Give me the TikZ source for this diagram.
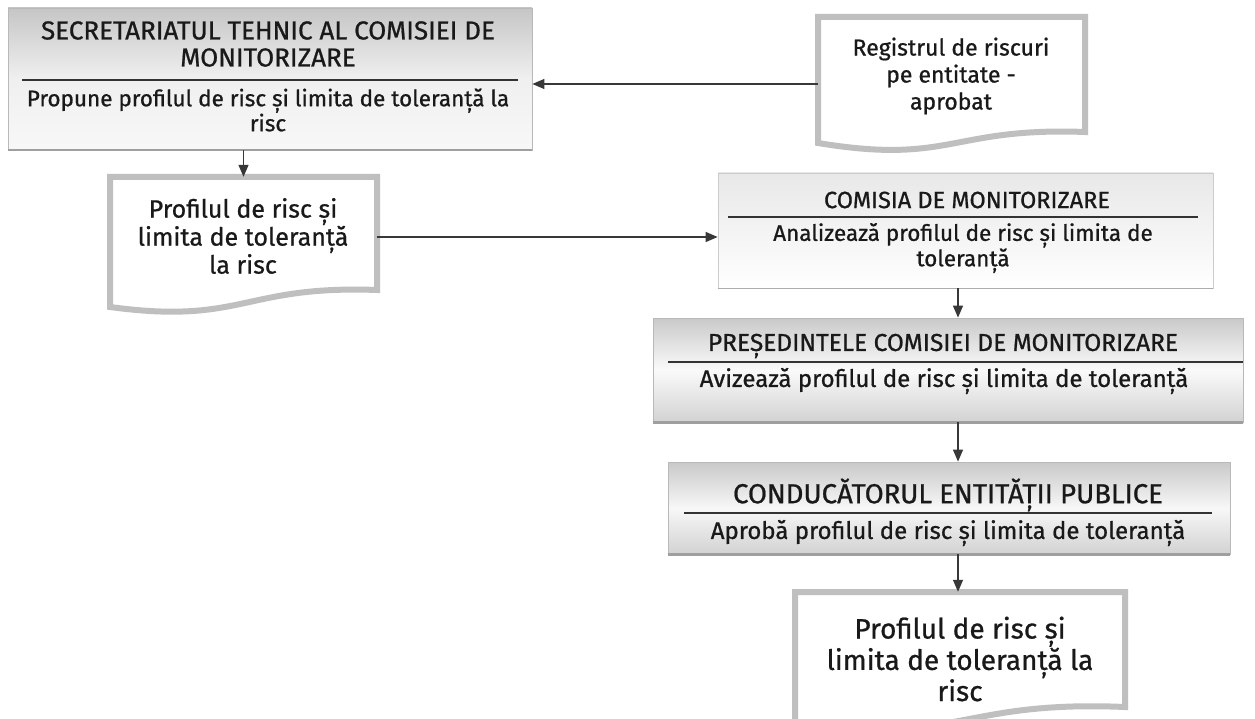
\documentclass[tikz,border=0pt]{standalone}
\usepackage{fontspec}
\setmainfont{Fira Sans}[FakeBold=0.8]
\usetikzlibrary{arrows.meta}
\begin{document}
\begin{tikzpicture}[x=1pt,y=-1pt,
  box/.style={rectangle, draw=gray!55, line width=0.8pt, inner sep=0pt},
  hidden/.style={rectangle, inner sep=0pt},
  conn/.style={draw=black!78, line width=1.3pt, -{Triangle[length=12pt,width=10pt]}},
  docline/.style={draw=gray!50, line width=6pt, fill=white, line join=miter},
  sep/.style={draw=black!80, line width=1.8pt},
  shadowline/.style={draw=gray!75, line width=2.2pt},
  txt/.style={align=center, text=black!90, inner sep=0pt},
  fa/.style={font=\fontsize{26}{27}\selectfont},
  fb/.style={font=\fontsize{22.5}{25}\selectfont},
  fc/.style={font=\fontsize{23}{27}\selectfont},
  fd/.style={font=\fontsize{25}{28}\selectfont},
  fe/.style={font=\fontsize{24}{27}\selectfont},
  ff/.style={font=\fontsize{27.5}{30}\selectfont},
  fg/.style={font=\fontsize{28}{29}\selectfont}
]
\useasboundingbox (0,0) rectangle (1255,719);
\clip (0,0) rectangle (1255,719);
\fill[white] (0,0) rectangle (1255,719);

% ---------- box 1 : Secretariat
\node[box, minimum width=524pt, minimum height=142pt, top color=gray!45, bottom color=gray!6, middle color=gray!12] (sec) at (270,79) {};
\draw[shadowline] (sec.south west) -- (sec.south east);
\node[txt, fa] (sect) at (268,44) {SECRETARIATUL TEHNIC AL COMISIEI DE\\MONITORIZARE};
\draw[sep] (22,80) -- (518,80);
\node[txt, fb] (secs) at (268,110) {Propune profilul de risc și limita de toleranță la\\risc};

% ---------- document : Registrul
\draw[docline] (818,17) -- (1085,17) -- (1085,132)
  .. controls (951,127) and (951,165) .. (818,143) -- cycle;
\node[hidden, minimum width=267pt, minimum height=134pt] (reg) at (951.5,84) {};
\node[txt, fc] (regt) at (951,76) {Registrul de riscuri\\pe entitate -\\aprobat};

% ---------- document : Profilul 1
\draw[docline] (110,177) -- (377,177) -- (377,290)
  .. controls (243,285) and (243,325) .. (110,307) -- cycle;
\node[hidden, minimum width=267pt, minimum height=120pt] (d1) at (243.5,237) {};
\node[txt, fd] (d1t) at (243,236) {Profilul de risc și\\limita de toleranță\\la risc};

% ---------- box : Comisia
\node[box, draw=gray!40, minimum width=495pt, minimum height=115pt, top color=gray!18, bottom color=white] (com) at (965.5,230.5) {};
\draw[draw=gray!65, line width=1.5pt] (com.south west) -- (com.south east);
\node[txt, font=\fontsize{23.5}{26}\selectfont] (comt) at (967,200) {COMISIA DE MONITORIZARE};
\draw[sep] (728,217) -- (1198,217);
\node[txt, font=\fontsize{22.5}{23}\selectfont] (coms) at (963,248) {Analizează profilul de risc și limita de\\toleranță};

% ---------- box : Presedintele
\node[box, minimum width=590pt, minimum height=104pt, top color=gray!42, bottom color=gray!35, middle color=gray!4] (pre) at (948,370) {};
\draw[shadowline] (pre.south west) -- (pre.south east);
\node[txt, font=\fontsize{24.5}{26}\selectfont] (pret) at (943,346) {PREȘEDINTELE COMISIEI DE MONITORIZARE};
\draw[sep] (668,362) -- (1243,362);
\node[txt, fe] (pres) at (944,381) {Avizează profilul de risc și limita de toleranță};

% ---------- box : Conducatorul
\node[box, minimum width=562pt, minimum height=92pt, top color=gray!42, bottom color=gray!35, middle color=gray!6] (con) at (949,508) {};
\draw[shadowline] (con.south west) -- (con.south east);
\node[txt, ff] (cont) at (948,495) {CONDUCĂTORUL ENTITĂȚII PUBLICE};
\draw[sep] (684,513) -- (1212,513);
\node[txt, fe] (cons) at (948,533) {Aprobă profilul de risc și limita de toleranță};

% ---------- document : Profilul final
\draw[docline] (795,592) -- (1125,592) -- (1125,707)
  .. controls (960,700) and (960,745) .. (795,724) -- cycle;
\node[hidden, minimum width=330pt, minimum height=120pt] (d2) at (960,652) {};
\node[txt, fg] (d2t) at (960,659) {Profilul de risc și\\limita de toleranță la\\risc};

% ---------- connectors
\coordinate (ax) at (958,0);
\draw[conn] (reg.west) -- (sec.east |- reg.west);
\draw[conn] (d1.north |- sec.south) -- (d1.north);
\draw[conn] (d1.east) -- (com.west |- d1.east);
\draw[conn] (com.south -| ax) -- (pre.north -| ax);
\draw[conn] (pre.south -| ax) -- (con.north -| ax);
\draw[conn] (con.south -| ax) -- (d2.north -| ax);
\end{tikzpicture}
\end{document}
